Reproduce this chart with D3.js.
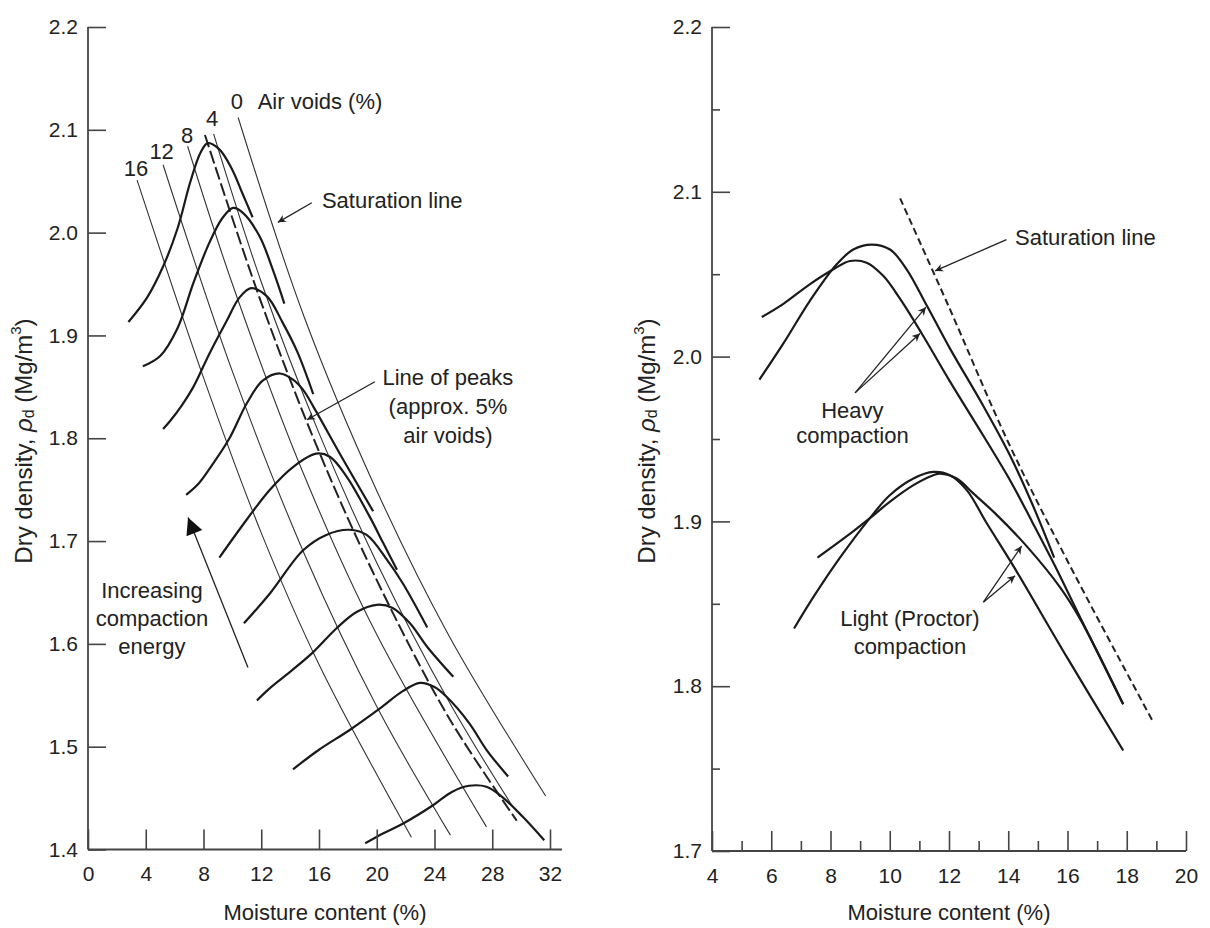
<!DOCTYPE html>
<html><head><meta charset="utf-8">
<script src="https://cdn.jsdelivr.net/npm/d3@7"></script>
<style>
body{margin:0;background:#fff}
svg{display:block}
text{font-family:"Liberation Sans",Arial,Helvetica,sans-serif;fill:#222}
</style>
</head><body>
<svg id="c" width="1210" height="928"></svg>
<script>
// ---------------- DATA (moisture %, dry density Mg/m3) ----------------
// Left panel: air-void lines
const voids0  = [[10.4,2.112],[15,1.917],[20,1.749],[25,1.608],[31.7,1.452]];
const voids4  = [[8.7,2.096],[12,1.952],[16,1.805],[20,1.679],[25,1.544],[29.4,1.442]];
const voids8  = [[6.9,2.084],[10,1.950],[15,1.763],[20,1.609],[27.6,1.422]];
const voids12 = [[5.2,2.066],[10,1.865],[15,1.687],[20,1.539],[25.1,1.414]];
const voids16 = [[3.4,2.051],[8,1.859],[12,1.708],[16,1.580],[22.4,1.412]];
const linePeaks = [[8.1,2.095],[12,1.932],[16,1.787],[20,1.662],[25,1.528],[29.7,1.428]];
// Left panel: compaction curves (increasing energy from bottom to top)
const curve1 = [[2.8,1.913],[4.1,1.937],[5.2,1.967],[6.2,2.004],[7.1,2.050],[7.8,2.078],[8.3,2.087],[9.1,2.081],[10.0,2.061],[10.7,2.038],[11.4,2.015]];
const curve2 = [[3.8,1.870],[5.0,1.880],[6.2,1.907],[7.3,1.951],[8.4,1.990],[9.3,2.014],[10.05,2.024],[10.75,2.019],[11.9,1.996],[12.8,1.964],[13.6,1.931]];
const curve3 = [[5.2,1.809],[5.7,1.817],[6.5,1.832],[7.3,1.850],[8.4,1.882],[9.6,1.914],[10.5,1.937],[11.3,1.946],[12.4,1.938],[13.5,1.912],[14.5,1.884],[15.6,1.843]];
const curve4 = [[6.8,1.745],[7.6,1.755],[8.4,1.770],[9.8,1.800],[11.0,1.834],[12.1,1.856],[13.3,1.863],[14.2,1.857],[14.9,1.847],[15.6,1.831],[17.6,1.781],[19.75,1.729]];
const curve5 = [[9.1,1.684],[11.0,1.721],[12.6,1.750],[14.2,1.772],[15.8,1.785],[16.75,1.782],[17.9,1.763],[19.5,1.724],[20.45,1.698],[21.4,1.672]];
const curve6 = [[10.8,1.620],[12.6,1.649],[14.9,1.691],[16.5,1.706],[18.1,1.711],[19.3,1.706],[20.7,1.682],[21.8,1.659],[23.5,1.616]];
const curve7 = [[11.7,1.545],[12.6,1.557],[14.1,1.574],[15.6,1.592],[17.2,1.615],[18.6,1.631],[20.0,1.638],[21.1,1.635],[22.3,1.620],[23.5,1.597],[25.3,1.568]];
const curve8 = [[14.2,1.478],[16.0,1.497],[18.1,1.516],[20.2,1.537],[21.8,1.554],[23.0,1.562],[24.0,1.558],[24.8,1.549],[26.4,1.523],[27.6,1.497],[29.1,1.471]];
const curve9 = [[19.2,1.406],[20.5,1.416],[21.8,1.425],[23.9,1.443],[25.2,1.456],[26.4,1.462],[27.6,1.461],[28.7,1.451],[30.1,1.432],[31.6,1.409]];
// Right panel
const heavy1 = [[5.68,2.024],[6.41,2.032],[7.31,2.044],[8.10,2.053],[8.66,2.058],[9.22,2.057],[9.78,2.049],[10.35,2.035],[11.08,2.014],[12.03,1.985],[13.16,1.952],[14.06,1.925],[14.8,1.900],[15.55,1.874],[16.42,1.842],[17.88,1.789]];
const heavy2 = [[5.60,1.986],[6.41,2.008],[7.31,2.034],[8.21,2.056],[8.77,2.065],[9.39,2.068],[10.01,2.065],[10.57,2.053],[11.25,2.031],[12.03,2.005],[13.16,1.970],[14.06,1.940],[14.8,1.911],[15.55,1.878]];
const light1 = [[7.56,1.878],[8.55,1.891],[9.33,1.902],[10.01,1.912],[10.80,1.922],[11.47,1.928],[11.70,1.929],[12.26,1.926],[12.82,1.917],[13.55,1.905],[14.62,1.885],[15.75,1.860],[16.42,1.841],[17.88,1.789]];
const light2 = [[6.77,1.835],[7.42,1.854],[8.32,1.878],[9.33,1.902],[10.01,1.916],[10.80,1.926],[11.47,1.930],[12.03,1.928],[12.6,1.919],[13.27,1.899],[14.17,1.873],[16.0,1.817],[17.88,1.761]];
const saturationRight = [[10.35,2.096],[12,2.030],[14,1.948],[16,1.876],[18.9,1.778]];
// Tick values / labels
const leftXTicks = [0,4,8,12,16,20,24,28,32];
const leftYTicks = [1.4,1.5,1.6,1.7,1.8,1.9,2.0,2.1,2.2];
const rightXTicks = [4,6,8,10,12,14,16,18,20];
const rightXMinor = [5,7,9,11,13,15,17,19];
const rightYTicks = [1.7,1.8,1.9,2.0,2.1,2.2];
const rightYMinor = [1.75,1.85,1.95,2.05,2.15];
const airVoidLabels = ["0","4","8","12","16"];

// ---------------- DRAWING ----------------
const svg = d3.select("#c");
const xL = d3.scaleLinear([0,32],[88,550]);
const yL = d3.scaleLinear([1.4,2.2],[849.5,27]);
const xR = d3.scaleLinear([4,20],[712,1186]);
const yR = d3.scaleLinear([1.7,2.2],[851,27]);

const defs = svg.append("defs");
defs.append("marker").attr("id","ah").attr("markerUnits","userSpaceOnUse")
  .attr("viewBox","0 0 10 10").attr("refX",10).attr("refY",5)
  .attr("markerWidth",11).attr("markerHeight",8).attr("orient","auto")
  .append("path").attr("d","M0,0 L10,5 L0,10 L3,5 Z").attr("fill","#222");
defs.append("marker").attr("id","ahBig").attr("markerUnits","userSpaceOnUse")
  .attr("viewBox","0 0 10 10").attr("refX",10).attr("refY",5)
  .attr("markerWidth",24).attr("markerHeight",17).attr("orient","auto")
  .append("path").attr("d","M0,0 L10,5 L0,10 Z").attr("fill","#111");

function lineGen(xs, ys){
  return d3.line().x(d=>xs(d[0])).y(d=>ys(d[1])).curve(d3.curveCatmullRom.alpha(0.5));
}
const gL = svg.append("g"), gR = svg.append("g");
const lnL = lineGen(xL,yL), lnR = lineGen(xR,yR);

// Left: air-void lines
[voids0,voids4,voids8,voids12,voids16].forEach(s=>{
  gL.append("path").attr("d",lnL(s)).attr("fill","none").attr("stroke","#333").attr("stroke-width",1.1);
});
gL.append("path").attr("d",lnL(linePeaks)).attr("fill","none").attr("stroke","#222")
  .attr("stroke-width",2).attr("stroke-dasharray","13,4");
[curve1,curve2,curve3,curve4,curve5,curve6,curve7,curve8,curve9].forEach(s=>{
  gL.append("path").attr("d",lnL(s)).attr("fill","none").attr("stroke","#1a1a1a").attr("stroke-width",2.2);
});

// Right curves
gR.append("path").attr("d",lnR(saturationRight)).attr("fill","none").attr("stroke","#222")
  .attr("stroke-width",2).attr("stroke-dasharray","7,4");
[heavy1,heavy2,light1,light2].forEach(s=>{
  gR.append("path").attr("d",lnR(s)).attr("fill","none").attr("stroke","#1a1a1a").attr("stroke-width",2.2);
});

// Axes
function styleAxis(g){
  g.select(".domain").remove();
  g.selectAll(".tick line").attr("stroke","#444").attr("stroke-width",1.6);
  g.selectAll(".tick text").attr("font-size",21).attr("fill","#222")
    .attr("font-family",'"Liberation Sans",Arial,sans-serif');
}
// left
const axLx = gL.append("g").attr("transform",`translate(0,${yL(1.4)})`)
  .call(d3.axisBottom(xL).tickValues(leftXTicks).tickFormat(d3.format("d")).tickSizeInner(-20).tickSizeOuter(0).tickPadding(17));
styleAxis(axLx);
const axLy = gL.append("g").attr("transform",`translate(${xL(0)},0)`)
  .call(d3.axisLeft(yL).tickValues(leftYTicks).tickFormat(d3.format(".1f")).tickSizeInner(-18).tickSizeOuter(0).tickPadding(10));
styleAxis(axLy);
gL.append("line").attr("x1",xL(0)).attr("x2",562).attr("y1",yL(1.4)).attr("y2",yL(1.4)).attr("stroke","#444").attr("stroke-width",1.8);
gL.append("line").attr("x1",xL(0)).attr("x2",xL(0)).attr("y1",yL(1.4)).attr("y2",yL(2.2)).attr("stroke","#444").attr("stroke-width",1.8);

// right
const axRx = gR.append("g").attr("transform",`translate(0,${yR(1.7)})`)
  .call(d3.axisBottom(xR).tickValues(rightXTicks).tickFormat(d3.format("d")).tickSizeInner(-20).tickSizeOuter(0).tickPadding(17));
styleAxis(axRx);
const axRxm = gR.append("g").attr("transform",`translate(0,${yR(1.7)})`)
  .call(d3.axisBottom(xR).tickValues(rightXMinor).tickFormat("").tickSizeInner(-10).tickSizeOuter(0));
styleAxis(axRxm);
const axRy = gR.append("g").attr("transform",`translate(${xR(4)},0)`)
  .call(d3.axisLeft(yR).tickValues(rightYTicks).tickFormat(d3.format(".1f")).tickSizeInner(-18).tickSizeOuter(0).tickPadding(10));
styleAxis(axRy);
const axRym = gR.append("g").attr("transform",`translate(${xR(4)},0)`)
  .call(d3.axisLeft(yR).tickValues(rightYMinor).tickFormat("").tickSizeInner(-8).tickSizeOuter(0));
styleAxis(axRym);
gR.append("line").attr("x1",xR(4)).attr("x2",xR(20)).attr("y1",yR(1.7)).attr("y2",yR(1.7)).attr("stroke","#444").attr("stroke-width",1.8);
gR.append("line").attr("x1",xR(4)).attr("x2",xR(4)).attr("y1",yR(1.7)).attr("y2",yR(2.2)).attr("stroke","#444").attr("stroke-width",1.8);

// Axis titles
function xTitle(g, x, y){
  g.append("text").attr("x",x).attr("y",y).attr("text-anchor","middle").attr("dominant-baseline","middle")
   .attr("font-size",22).text("Moisture content (%)");
}
function yTitle(g, x, y){
  const t = g.append("text").attr("transform",`translate(${x},${y}) rotate(-90)`)
    .attr("text-anchor","middle").attr("dominant-baseline","middle").attr("font-size",24);
  t.append("tspan").text("Dry density, ");
  t.append("tspan").attr("font-style","italic").text("ρ");
  t.append("tspan").attr("font-size",16).attr("dy",4).text("d");
  t.append("tspan").attr("dy",-4).text(" (Mg/m");
  t.append("tspan").attr("font-size",15).attr("dy",-9).text("3");
  t.append("tspan").attr("dy",9).text(")");
}
xTitle(gL, (xL(0)+562)/2, 914);
xTitle(gR, (xR(4)+xR(20))/2, 914);
yTitle(gL, 26, 441);
yTitle(gR, 649, 441);

// Left annotations
function txt(g, x, y, s, anchor){
  return g.append("text").attr("x",x).attr("y",y).attr("text-anchor",anchor||"middle")
    .attr("dominant-baseline","middle").attr("font-size",22).text(s);
}
const voidLabelPos = [[10.32,2.126],[8.59,2.109],[6.86,2.093],[5.10,2.077],[3.32,2.061]];
airVoidLabels.forEach((s,i)=> txt(gL, xL(voidLabelPos[i][0]), yL(voidLabelPos[i][1]), s));
txt(gL, xL(11.75), yL(2.126), "Air voids (%)", "start");
txt(gL, xL(16.2), yL(2.030), "Saturation line", "start");
gL.append("line").attr("x1",xL(15.5)).attr("y1",yL(2.029)).attr("x2",xL(13.15)).attr("y2",yL(2.010))
  .attr("stroke","#222").attr("stroke-width",1.3).attr("marker-end","url(#ah)");
txt(gL, xL(24.93), yL(1.857), "Line of peaks");
txt(gL, xL(24.93), yL(1.829), "(approx. 5%");
txt(gL, xL(24.93), yL(1.801), "air voids)");
gL.append("line").attr("x1",xL(19.87)).attr("y1",yL(1.855)).attr("x2",xL(15.17)).attr("y2",yL(1.818))
  .attr("stroke","#222").attr("stroke-width",1.3).attr("marker-end","url(#ah)");
txt(gL, xL(4.43), yL(1.650), "Increasing");
txt(gL, xL(4.43), yL(1.623), "compaction");
txt(gL, xL(4.43), yL(1.596), "energy");
gL.append("line").attr("x1",xL(11.08)).attr("y1",yL(1.577)).attr("x2",xL(6.93)).attr("y2",yL(1.723))
  .attr("stroke","#222").attr("stroke-width",1.3).attr("marker-end","url(#ahBig)");

// Right annotations
txt(gR, xR(14.23), yR(2.071), "Saturation line", "start");
gR.append("line").attr("x1",xR(13.94)).attr("y1",yR(2.071)).attr("x2",xR(11.53)).attr("y2",yR(2.052))
  .attr("stroke","#222").attr("stroke-width",1.3).attr("marker-end","url(#ah)");
txt(gR, xR(8.74), yR(1.966), "Heavy");
txt(gR, xR(8.74), yR(1.951), "compaction");
[[11.22,2.030],[11.02,2.014]].forEach(p=>{
  gR.append("line").attr("x1",xR(8.83)).attr("y1",yR(1.978)).attr("x2",xR(p[0])).attr("y2",yR(p[1]))
    .attr("stroke","#222").attr("stroke-width",1.3).attr("marker-end","url(#ah)");
});
txt(gR, xR(10.68), yR(1.840), "Light (Proctor)");
txt(gR, xR(10.68), yR(1.823), "compaction");
[[14.45,1.885],[14.23,1.867]].forEach(p=>{
  gR.append("line").attr("x1",xR(13.16)).attr("y1",yR(1.851)).attr("x2",xR(p[0])).attr("y2",yR(p[1]))
    .attr("stroke","#222").attr("stroke-width",1.3).attr("marker-end","url(#ah)");
});
</script>
</body></html>
